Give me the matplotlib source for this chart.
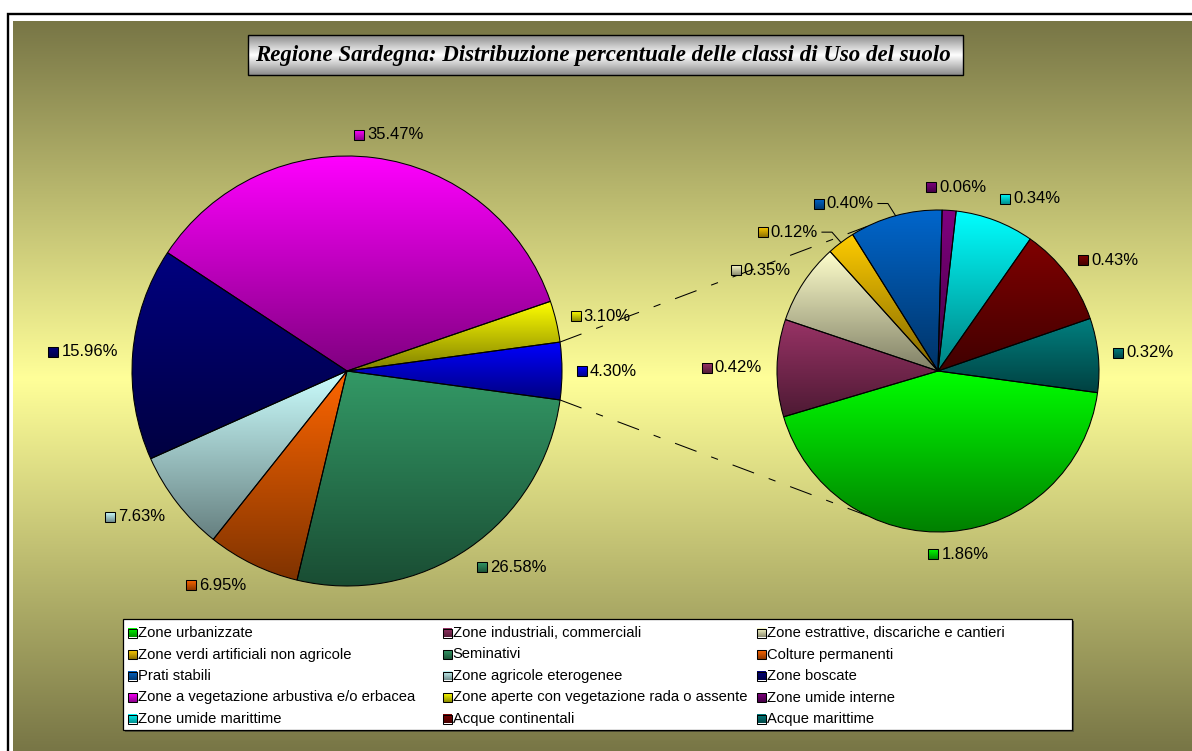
import numpy as np
import matplotlib.pyplot as plt
from matplotlib.colors import LinearSegmentedColormap, to_rgb
from matplotlib.patches import Rectangle

W, H = 1192, 751

# classi di uso del suolo (ordine della legenda)
classes = [
    "Zone urbanizzate", "Zone industriali, commerciali", "Zone estrattive, discariche e cantieri",
    "Zone verdi artificiali non agricole", "Seminativi", "Colture permanenti",
    "Prati stabili", "Zone agricole eterogenee", "Zone boscate",
    "Zone a vegetazione arbustiva e/o erbacea", "Zone aperte con vegetazione rada o assente", "Zone umide interne",
    "Zone umide marittime", "Acque continentali", "Acque marittime",
]
percent = [1.86, 0.42, 0.35, 0.12, 26.58, 6.95, 0.40, 7.63, 15.96, 35.47, 3.10, 0.06, 0.34, 0.43, 0.32]
colors = ["#00ff00", "#993366", "#ffffcc", "#ffcc00", "#339966", "#ff6600",
          "#0066cc", "#ccffff", "#000080", "#ff00ff", "#ffff00", "#800080",
          "#00ffff", "#800000", "#008080"]
in_second = [True, True, True, True, False, False, True, False, False, False, False, True, True, True, True]
other_color = "#0000ff"

title = "Regione Sardegna: Distribuzione percentuale delle classi di Uso del suolo"


def py(y):
    # pixel row -> data y
    return H - y


def shade(c, k=0.5):
    r, g, b = to_rgb(c)
    return (r * k, g * k, b * k)


def vgrad(ax, x0, x1, y0, y1, stops, z, clip=None):
    cmap = LinearSegmentedColormap.from_list("g", stops)
    arr = np.linspace(0, 1, 256).reshape(-1, 1)
    im = ax.imshow(arr, cmap=cmap, extent=(x0, x1, y0, y1), origin="upper",
                   aspect="auto", interpolation="bilinear", zorder=z)
    if clip is not None:
        im.set_clip_path(clip)
    return im


def key(ax, x, y, w, h, c, z=6):
    vgrad(ax, x, x + w, y, y + h, [c, shade(c, 0.55)], z)
    ax.add_patch(Rectangle((x, y), w, h, fc="none", ec="black", lw=0.75, zorder=z + 0.1))


fig = plt.figure(figsize=(W / 100, H / 100), dpi=100, facecolor="white")
ax = fig.add_axes([0, 0, 1, 1])
renderer = fig.canvas.get_renderer()

# sfondo a gradiente
vgrad(ax, 13, W, 0, py(21), [(0, "#787646"), (0.49, "#ffff99"), (1, "#787646")], 0)
ax.plot([8, 8, W], [0, py(14), py(14)], color="black", lw=1.7, solid_joinstyle="miter", zorder=1)

# torte
sec_vals = [p for p, s in zip(percent, in_second) if s]
sec_cols = [c for c, s in zip(colors, in_second) if s]
sec_names = [n for n, s in zip(classes, in_second) if s]
other = round(sum(sec_vals), 2)
main_vals = [other] + [p for p, s in zip(percent, in_second) if not s]
main_cols = [other_color] + [c for c, s in zip(colors, in_second) if not s]
main_names = ["Altro"] + [n for n, s in zip(classes, in_second) if not s]
half = other / sum(main_vals) * 180

c1, r1 = (347, py(371)), 215
c2, r2 = (938, py(371)), 161

wp = dict(edgecolor="black", linewidth=0.75)
main_w, _ = ax.pie(main_vals, colors=main_cols, startangle=half, counterclock=False,
                   radius=r1, center=c1, wedgeprops=wp)
sec_w, _ = ax.pie(sec_vals, colors=sec_cols, startangle=-half, counterclock=False,
                  radius=r2, center=c2, wedgeprops=wp)

for wedges, cols in ((main_w, main_cols), (sec_w, sec_cols)):
    for w, c in zip(wedges, cols):
        th = np.radians(np.linspace(w.theta1, w.theta2, 60))
        cx, cy = w.center
        ys = np.r_[cy, cy + w.r * np.sin(th)]
        vgrad(ax, cx - w.r, cx + w.r, ys.min(), ys.max(), [c, shade(c)], 2, clip=w)
        w.set_facecolor("none")
        w.set_zorder(3)

# linee di collegamento
dash = (0, (22, 15, 7, 15))
for s in (1, -1):
    a1 = np.radians(s * half)
    a2 = np.radians(s * 116)
    ax.plot([c1[0] + r1 * np.cos(a1), c2[0] + r2 * np.cos(a2)],
            [c1[1] + r1 * np.sin(a1), c2[1] + r2 * np.sin(a2)],
            color="black", lw=0.75, ls=dash, zorder=1.5)

# etichette
nudge = {"Prati stabili": (-24, -10), "Zone verdi artificiali non agricole": (-14, -8)}


def put_label(c, r, w, val, color, name, d=15):
    ang = np.radians((w.theta1 + w.theta2) / 2)
    px_, py_ = c[0] + (r + d) * np.cos(ang), c[1] + (r + d) * np.sin(ang)
    t = ax.text(0, 0, f"{val:.2f}%", fontsize=12, family="Liberation Sans",
                va="center", ha="left", color="black", zorder=6)
    tw = t.get_window_extent(renderer).width
    gw = 13 + tw
    f = np.clip(3 * np.cos(ang), -1, 1)
    dx, dy = nudge.get(name, (0, 0))
    left = px_ - gw * (1 - f) / 2 + dx
    ymid = py_ + 8 * np.sin(ang) + dy
    t.set_position((left + 13, ymid))
    key(ax, left, ymid - 5, 10, 10, color)
    if name in nudge:
        ex, ey = c[0] + r * np.cos(ang), c[1] + r * np.sin(ang)
        ax.plot([left + gw + 4, left + gw + 14, ex], [ymid, ymid, ey],
                color="black", lw=0.75, zorder=4)


for w, v, c, n in zip(main_w, main_vals, main_cols, main_names):
    put_label(c1, r1, w, v, c, n)
for w, v, c, n in zip(sec_w, sec_vals, sec_cols, sec_names):
    put_label(c2, r2, w, v, c, n)

# legenda
ax.add_patch(Rectangle((125, py(732)), 949, 111, fc="#505038", ec="none", zorder=4.9))
ax.add_patch(Rectangle((123, py(730)), 949, 111, fc="white", ec="black", lw=0.9, zorder=5))
for i, (n, c) in enumerate(zip(classes, colors)):
    row, col = divmod(i, 3)
    x = 128 + col * 314.7
    ym = py(633 + row * 21.5)
    key(ax, x, ym - 4.5, 9, 9, c, z=6)
    ax.text(x + 10, ym, n, fontsize=10.6, family="Liberation Sans", va="center", ha="left", zorder=7)

# titolo
vgrad(ax, 248, 963, py(75), py(35), ["#8a8a8a", "white", "#8a8a8a"], 5)
ax.add_patch(Rectangle((248, py(75)), 715, 40, fc="none", ec="black", lw=1, zorder=5.1))
ax.text(603, py(55), title, fontsize=16.5, family="Liberation Serif", weight="bold",
        style="italic", ha="center", va="center", zorder=6)

ax.set_xlim(0, W)
ax.set_ylim(0, H)
ax.axis("off")
fig.savefig("out.png", dpi=100)
